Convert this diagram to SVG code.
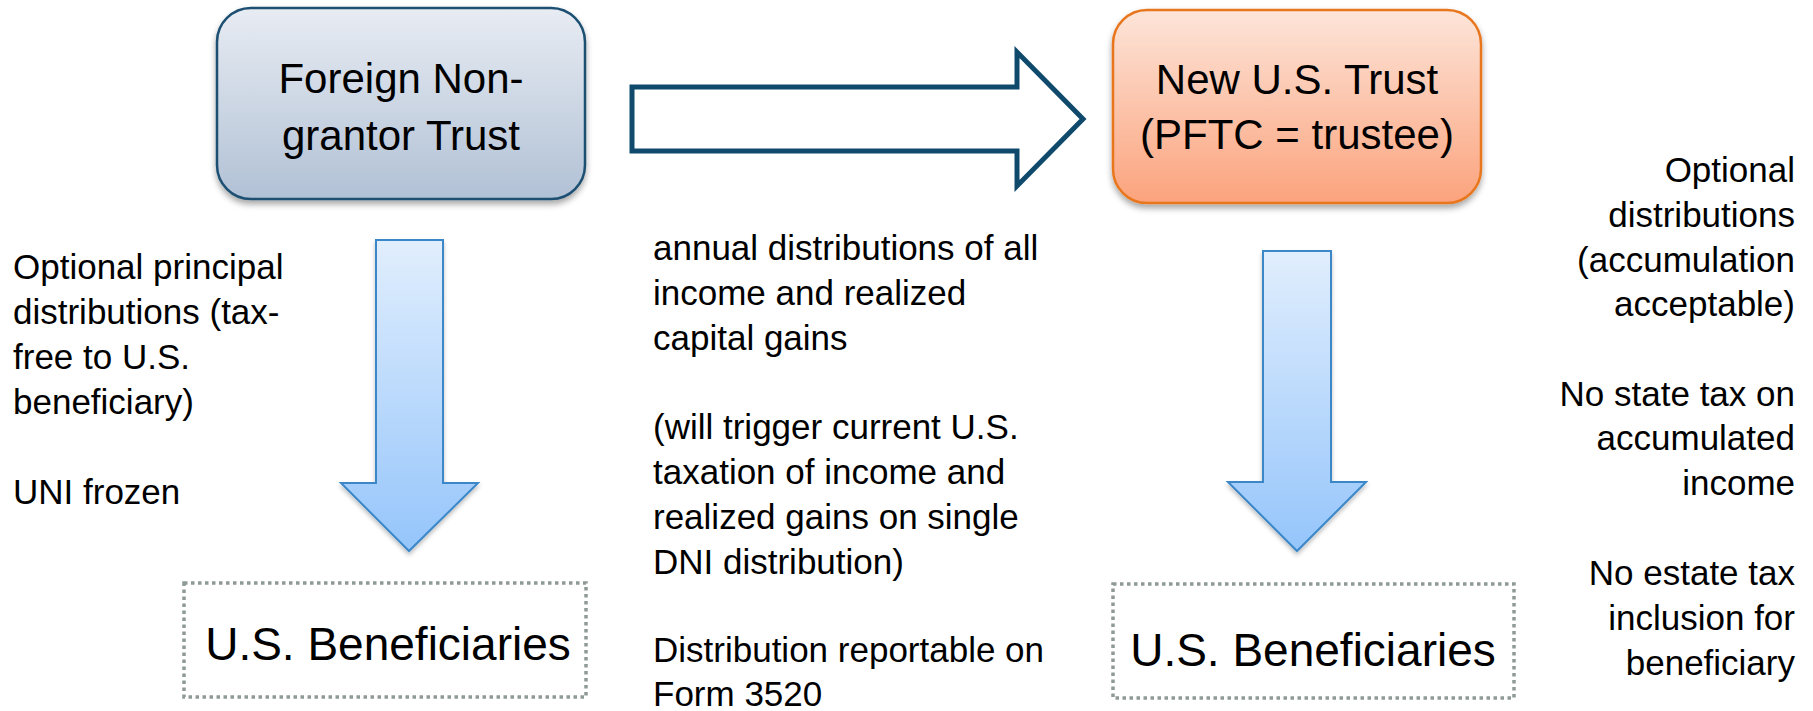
<svg xmlns="http://www.w3.org/2000/svg" width="1813" height="711" viewBox="0 0 1813 711">
<style>
text{font-family:"Liberation Sans",Arial,sans-serif;fill:#000}
.title{font-size:42px;text-anchor:middle}
.side{font-size:35px}
.ben{font-size:46px;text-anchor:middle}
.dotted{fill:none;stroke:#8f9a96;stroke-width:3.5;stroke-dasharray:3.5 3.5}
.down{fill:url(#gDown);stroke:#3b87c8;stroke-width:2;filter:url(#sh2)}
</style>
<defs>
<linearGradient id="gBlue" x1="0" y1="0" x2="0" y2="1">
<stop offset="0" stop-color="#e8ecf3"/><stop offset="1" stop-color="#b1c1d5"/>
</linearGradient>
<linearGradient id="gOrange" x1="0" y1="0" x2="0" y2="1">
<stop offset="0" stop-color="#fde5d9"/><stop offset="1" stop-color="#fba37d"/>
</linearGradient>
<linearGradient id="gDown" x1="0" y1="0" x2="0" y2="1">
<stop offset="0" stop-color="#e1eefd"/><stop offset="1" stop-color="#95c5fb"/>
</linearGradient>
<filter id="sh" x="-10%" y="-10%" width="120%" height="130%">
<feDropShadow dx="0" dy="4" stdDeviation="3" flood-color="#000" flood-opacity="0.35"/>
</filter>
<filter id="sh2" x="-20%" y="-10%" width="140%" height="130%">
<feDropShadow dx="0" dy="3" stdDeviation="2" flood-color="#000" flood-opacity="0.25"/>
</filter>
</defs>

<g id="foreign-trust">
<rect x="217" y="8" width="368" height="191" rx="34" fill="url(#gBlue)" stroke="#1b4f72" stroke-width="2.5" filter="url(#sh)"/>
<text class="title" x="401" y="93">Foreign Non-</text>
<text class="title" x="401" y="150">grantor Trust</text>
</g>

<g id="us-trust">
<rect x="1113" y="10" width="368" height="193" rx="34" fill="url(#gOrange)" stroke="#e8761e" stroke-width="2.5" filter="url(#sh)"/>
<text class="title" x="1297" y="94">New U.S. Trust</text>
<text class="title" x="1297" y="149">(PFTC = trustee)</text>
</g>

<g id="beneficiaries-left">
<rect class="dotted" x="184" y="583" width="402" height="114"/>
<text class="ben" x="388" y="660">U.S. Beneficiaries</text>
</g>

<g id="beneficiaries-right">
<rect class="dotted" x="1113" y="584" width="401" height="114"/>
<text class="ben" x="1313" y="666">U.S. Beneficiaries</text>
</g>

<g id="connectors">
<polygon points="632,87 1017,87 1017,52 1083,119 1017,186 1017,151 632,151" fill="#fff" stroke="#0f4a6c" stroke-width="5" stroke-linejoin="miter"/>
<polygon class="down" points="376,240 443,240 443,483 478,483 409,551 341,483 376,483"/>
<polygon class="down" points="1263,251 1331,251 1331,482 1366,482 1297,551 1228,482 1263,482"/>
</g>

<g id="text-left">
<text class="side" x="13" y="279">Optional principal</text>
<text class="side" x="13" y="324">distributions (tax-</text>
<text class="side" x="13" y="369">free to U.S.</text>
<text class="side" x="13" y="414">beneficiary)</text>
<text class="side" x="13" y="504">UNI frozen</text>
</g>

<g id="text-middle">
<text class="side" x="653" y="260">annual distributions of all</text>
<text class="side" x="653" y="305">income and realized</text>
<text class="side" x="653" y="350">capital gains</text>
<text class="side" x="653" y="439">(will trigger current U.S.</text>
<text class="side" x="653" y="484">taxation of income and</text>
<text class="side" x="653" y="529">realized gains on single</text>
<text class="side" x="653" y="574">DNI distribution)</text>
<text class="side" x="653" y="662">Distribution reportable on</text>
<text class="side" x="653" y="706">Form 3520</text>
</g>

<g id="text-right">
<text class="side" x="1795" y="182" text-anchor="end">Optional</text>
<text class="side" x="1795" y="227" text-anchor="end">distributions</text>
<text class="side" x="1795" y="272" text-anchor="end">(accumulation</text>
<text class="side" x="1795" y="316" text-anchor="end">acceptable)</text>
<text class="side" x="1795" y="406" text-anchor="end">No state tax on</text>
<text class="side" x="1795" y="450" text-anchor="end">accumulated</text>
<text class="side" x="1795" y="495" text-anchor="end">income</text>
<text class="side" x="1795" y="585" text-anchor="end">No estate tax</text>
<text class="side" x="1795" y="630" text-anchor="end">inclusion for</text>
<text class="side" x="1795" y="675" text-anchor="end">beneficiary</text>
</g>
</svg>
